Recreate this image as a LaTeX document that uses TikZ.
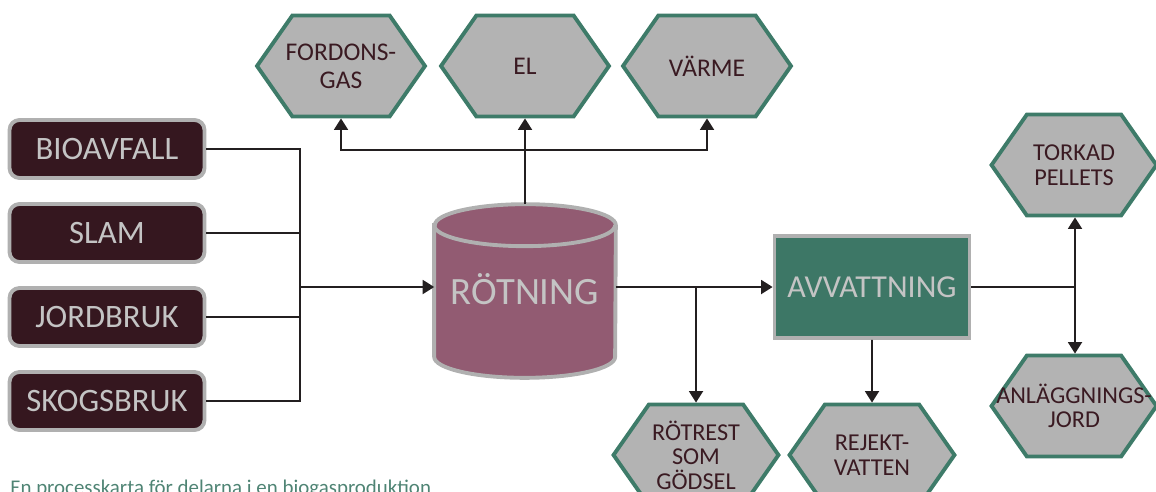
\documentclass[tikz,border=0pt]{standalone}
\usepackage{fontspec}
\setmainfont{Carlito}
\usepackage{xcolor}
\usetikzlibrary{arrows.meta,shapes.symbols}

\definecolor{srcfill}{HTML}{35171F}
\definecolor{boxedge}{HTML}{B0B0B0}
\definecolor{lighttxt}{HTML}{C4C4C4}
\definecolor{digfill}{HTML}{925B72}
\definecolor{dewfill}{HTML}{3D7766}
\definecolor{hexfill}{HTML}{B3B3B3}
\definecolor{hexedge}{HTML}{3E7B69}
\definecolor{hextxt}{HTML}{3A1A22}
\definecolor{linecol}{HTML}{231F20}
\definecolor{captxt}{HTML}{4F8474}

\begin{document}
\begin{tikzpicture}[x=0.02cm, y=-0.02cm, >={Triangle[width=0.28cm,length=0.23cm]},
  source/.style={draw=boxedge, line width=2.2pt, fill=srcfill, rounded corners=0.2cm,
    minimum width=3.9cm, minimum height=1.16cm, text=lighttxt, font=\fontsize{18.6}{20}\selectfont},
  product/.style={signal, signal to=east and west, signal pointer angle=110,
    draw=hexedge, line width=2.2pt, fill=hexfill, minimum width=3.3cm, minimum height=2.02cm,
    inner xsep=-0.8cm, inner ysep=0pt, text=hextxt, align=center, font=\fontsize{13.8}{14}\selectfont},
  flow/.style={draw=linecol, line width=1.1pt},
  arr/.style={flow, ->},
  tank/.style={draw=boxedge, line width=2.2pt}]
  \useasboundingbox (0,0) rectangle (1156,491);

  % inputs
  \node[source] (bio)  at (107,149) {BIOAVFALL};
  \node[source] (slam) at (107,233) {SLAM};
  \node[source] (jord) at (107,317) {JORDBRUK};
  \node[source] (skog) at (107,401) {SKOGSBRUK};

  % process
  \node[minimum width=3.62cm, minimum height=3.46cm] (rot) at (525,291) {};
  \filldraw[tank, fill=digfill] ([yshift=-0.42cm]rot.north west) -- ([yshift=0.42cm]rot.south west)
    arc[start angle=180, end angle=360, x radius=1.81cm, y radius=0.42cm]
    -- ([yshift=-0.42cm]rot.north east)
    arc[start angle=0, end angle=180, x radius=1.81cm, y radius=0.42cm] -- cycle;
  \draw[tank] ([yshift=-0.42cm]rot.north west)
    arc[start angle=180, end angle=360, x radius=1.81cm, y radius=0.42cm];
  \node[text=lighttxt, font=\fontsize{22}{24}\selectfont] (rottxt) at (525,289) {RÖTNING};
  \node[draw=boxedge, line width=2.2pt, fill=dewfill, minimum width=3.9cm, minimum height=2.04cm,
    text=lighttxt, font=\fontsize{18.2}{20}\selectfont] (avv) at (872,287) {AVVATTNING};

  % products
  \node[product, minimum width=3.36cm, font=\fontsize{14.5}{16}\selectfont] (fordon) at (341,66) {FORDONS-\\GAS};
  \node[product, minimum width=3.36cm, font=\fontsize{14.5}{16}\selectfont] (el)     at (525,66) {EL};
  \node[product, minimum width=3.36cm, font=\fontsize{14.5}{16}\selectfont] (varme)  at (707,66) {VÄRME};
  \node[product] (torkad)  at (1074,165) {TORKAD\\PELLETS};
  \node[product] (anlagg)  at (1074,406) {ANLÄGGNINGS-\\JORD};
  \node[product] (rotrest) at (696,455) {RÖTREST\\SOM\\GÖDSEL};
  \node[product] (rejekt)  at (872,455) {REJEKT-\\VATTEN};

  \coordinate (join) at (300,287);
  \coordinate (hub) at (525,150);
  \coordinate (split) at (696,287);
  \coordinate (fork) at (1075,287);

  \draw[flow] (bio.east) -| (join);
  \draw[flow] (skog.east) -| (join);
  \draw[flow] (slam.east) -- (slam.east -| join);
  \draw[flow] (jord.east) -- (jord.east -| join);
  \draw[arr] (join) -- (join -| rot.west);

  \draw[flow] (rot.north) -- (hub);
  \draw[arr] (hub) -| (fordon);
  \draw[arr] (hub) -| (varme);
  \draw[arr] (hub) -- (el);

  \draw[arr] (avv.west -| rot.east) -- (avv.west);
  \draw[arr] (split) -- (rotrest);
  \draw[arr] (avv) -- (rejekt);
  \draw[flow] (avv.east) -- (fork);
  \draw[arr] (fork) -- (fork |- torkad.south);
  \draw[arr] (fork) -- (fork |- anlagg.north);

  \node[anchor=base west, inner sep=0pt, text=captxt, font=\fontsize{11.9}{13}\selectfont] (cap) at (10,494)
    {En processkarta för delarna i en biogasproduktion};
\end{tikzpicture}
\end{document}
